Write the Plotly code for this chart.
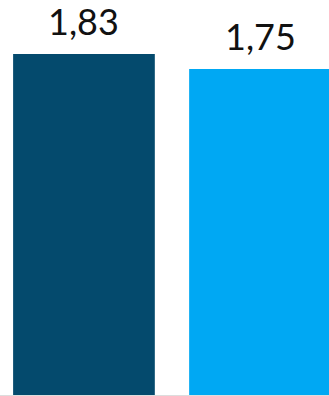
import plotly.graph_objects as go

categories = ["A", "B"]
values = [1.83, 1.75]
labels = ["1,83", "1,75"]
colors = ["#044A6D", "#00A8F3"]

fig = go.Figure(go.Bar(
    x=[0, 1], y=values,
    marker=dict(color=colors, line=dict(width=0)),
    width=0.805,
    hoverinfo="skip",
))

for i, (v, lab) in enumerate(zip(values, labels)):
    fig.add_annotation(x=i, y=v, text=lab, showarrow=False,
                       xanchor="center", yanchor="bottom", yshift=9,
                       font=dict(family="Lato", size=36, color="#111111"))

fig.update_layout(
    width=329, height=396,
    margin=dict(l=0, r=0, t=0, b=1, pad=0),
    paper_bgcolor="white", plot_bgcolor="white",
    showlegend=False,
    xaxis=dict(range=[-0.477, 1.392], showticklabels=False, showgrid=False,
               zeroline=False, showline=True, linecolor="#DDDDDD", linewidth=1,
               ticks=""),
    yaxis=dict(range=[0, 2.1198], showticklabels=False, showgrid=False,
               zeroline=False, showline=False, ticks=""),
)

fig.write_html("out.html", config={"displayModeBar": False},
               post_script="document.body.style.margin='0';document.body.style.overflow='hidden';")
